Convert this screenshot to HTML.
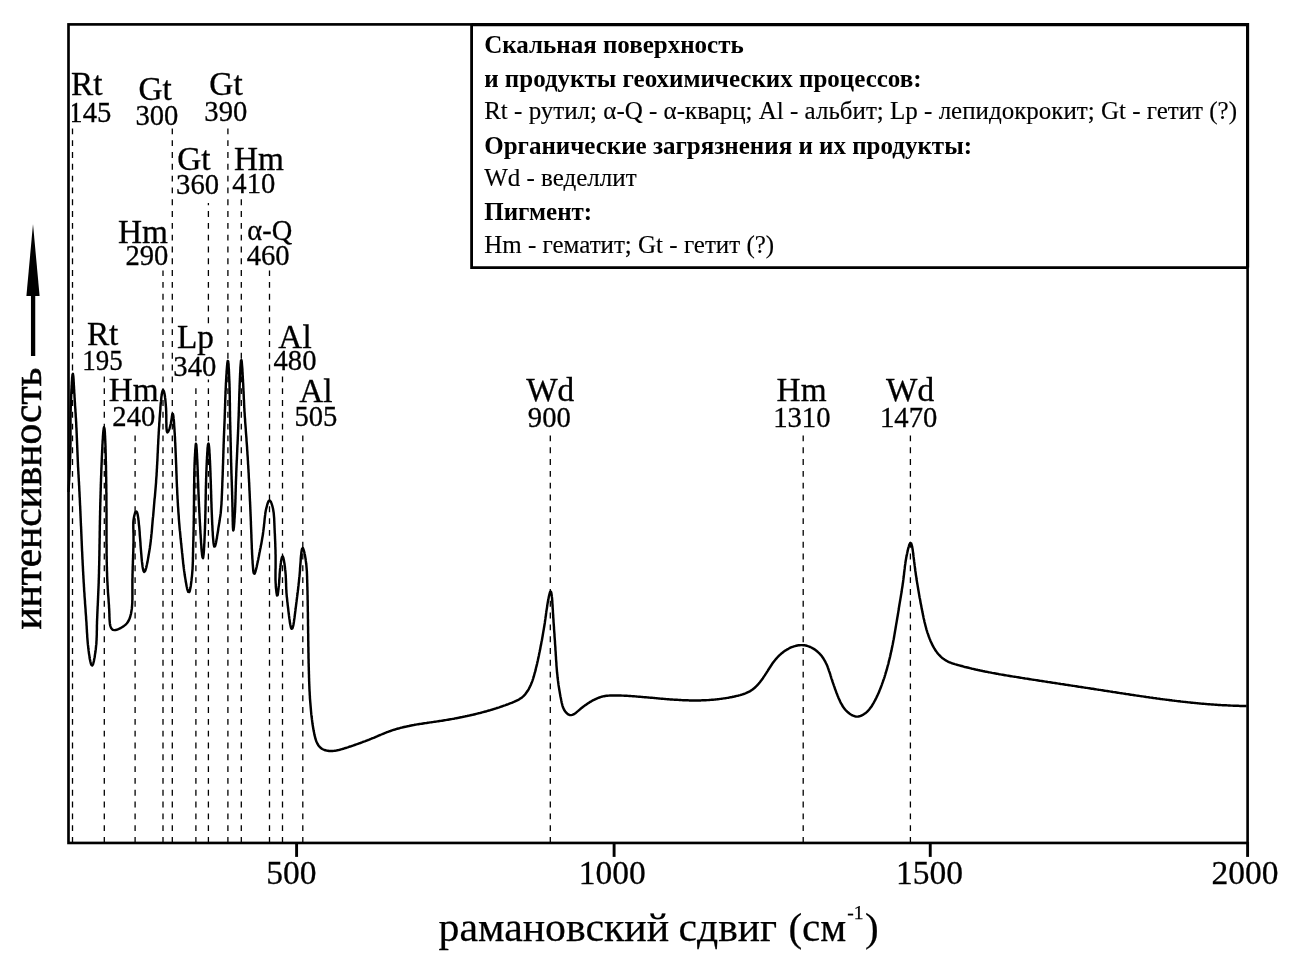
<!DOCTYPE html>
<html lang="ru"><head><meta charset="utf-8"><title>Рамановский спектр</title>
<style>
html,body{margin:0;padding:0;background:#fff;}
body{width:1289px;height:971px;overflow:hidden;position:relative;}
svg{position:absolute;left:0;top:0;display:block;}
svg text{font-family:"Liberation Serif",serif;fill:#000;}
.lt{font-size:33.3px;stroke:#000;stroke-width:0.3px;}
.nm{font-size:30px;stroke:#000;stroke-width:0.3px;}
.tk{font-size:33.5px;stroke:#000;stroke-width:0.3px;}
.lg{font-size:25px;stroke:#000;stroke-width:0.15px;}
.lgb{font-size:25px;font-weight:bold;}
.ax{font-size:41px;}
</style></head>
<body>
<svg width="1289" height="971" viewBox="0 0 1289 971">
<rect x="0" y="0" width="1289" height="971" fill="#fff"/>
<g stroke="#000" stroke-width="1.3" stroke-dasharray="5.9 5.91" fill="none">
<line x1="72.5" y1="128.4" x2="72.5" y2="842" stroke-dashoffset="0.00"/>
<line x1="104.3" y1="376.4" x2="104.3" y2="842" stroke-dashoffset="11.80"/>
<line x1="135.1" y1="435.5" x2="135.1" y2="842" stroke-dashoffset="0.04"/>
<line x1="163" y1="270.6" x2="163" y2="842" stroke-dashoffset="0.48"/>
<line x1="172.3" y1="128.4" x2="172.3" y2="842" stroke-dashoffset="0.00"/>
<line x1="195.9" y1="388.2" x2="195.9" y2="842" stroke-dashoffset="11.79"/>
<line x1="208.4" y1="203.1" x2="208.4" y2="842" stroke-dashoffset="3.84"/>
<line x1="227.9" y1="128.4" x2="227.9" y2="842" stroke-dashoffset="0.00"/>
<line x1="241.3" y1="198.8" x2="241.3" y2="842" stroke-dashoffset="11.35"/>
<line x1="269.5" y1="270.6" x2="269.5" y2="842" stroke-dashoffset="0.48"/>
<line x1="282.5" y1="376.4" x2="282.5" y2="842" stroke-dashoffset="11.80"/>
<line x1="302.8" y1="435.5" x2="302.8" y2="842" stroke-dashoffset="0.04"/>
<line x1="550.3" y1="435.5" x2="550.3" y2="842" stroke-dashoffset="0.04"/>
<line x1="803.2" y1="435.5" x2="803.2" y2="842" stroke-dashoffset="0.04"/>
<line x1="910.4" y1="435.5" x2="910.4" y2="842" stroke-dashoffset="0.04"/>
</g>
<rect x="206" y="327" width="5" height="52.5" fill="#fff"/>
<path d="M68.5,492.0L68.6,490.8L68.6,489.6L68.7,488.4L68.8,487.2L68.8,486.0L68.9,484.8L69.0,483.6L69.0,482.4L69.1,481.2L69.2,480.0L69.2,478.8L69.3,477.6L69.4,476.4L69.4,475.2L69.5,474.0L69.5,472.8L69.6,471.6L69.6,470.4L69.7,469.2L69.8,468.0L69.8,466.8L69.9,465.6L69.9,464.4L69.9,463.2L70.0,462.0L70.0,460.8L70.1,459.6L70.1,458.4L70.2,457.2L70.2,456.0L70.2,454.8L70.3,453.6L70.3,452.4L70.3,451.2L70.4,450.0L70.4,448.8L70.4,447.6L70.4,446.4L70.4,445.2L70.5,444.0L70.5,442.8L70.5,441.6L70.5,440.4L70.5,439.2L70.5,438.0L70.5,436.8L70.5,435.6L70.5,434.4L70.5,433.2L70.5,432.0L70.5,430.8L70.5,429.6L70.5,428.4L70.5,427.2L70.5,426.0L70.5,424.8L70.5,423.6L70.5,422.4L70.5,421.2L70.5,420.0L70.5,418.8L70.5,417.6L70.6,416.4L70.6,415.2L70.6,414.0L70.6,412.8L70.6,411.6L70.7,410.4L70.7,409.2L70.7,408.0L70.8,406.8L70.8,405.6L70.9,404.4L70.9,403.2L70.9,402.0L71.0,400.8L71.0,399.6L71.1,398.4L71.1,397.2L71.2,396.0L71.2,394.8L71.3,393.6L71.3,392.4L71.4,391.2L71.4,390.0L71.5,388.8L71.6,387.6L71.6,386.4L71.7,385.2L71.8,384.0L71.8,382.8L71.9,381.6L72.0,380.4L72.1,379.2L72.1,378.0L72.3,376.8L72.4,375.6L72.5,374.5L72.9,373.8L73.1,375.0L73.3,376.2L73.4,377.4L73.5,378.6L73.6,379.8L73.6,381.0L73.7,382.2L73.8,383.4L73.8,384.6L73.9,385.8L74.0,387.0L74.0,388.2L74.1,389.4L74.2,390.6L74.2,391.8L74.3,393.0L74.4,394.2L74.5,395.4L74.5,396.6L74.6,397.8L74.7,399.0L74.7,400.2L74.8,401.4L74.9,402.6L75.0,403.8L75.0,405.0L75.1,406.2L75.2,407.4L75.3,408.6L75.4,409.8L75.4,411.0L75.5,412.2L75.6,413.4L75.7,414.6L75.7,415.8L75.8,417.0L75.9,418.2L76.0,419.4L76.0,420.6L76.1,421.7L76.2,422.9L76.2,424.1L76.3,425.3L76.3,426.5L76.4,427.7L76.5,428.9L76.5,430.1L76.6,431.3L76.6,432.5L76.7,433.7L76.7,434.9L76.8,436.1L76.8,437.3L76.9,438.5L76.9,439.7L77.0,440.9L77.0,442.1L77.1,443.3L77.1,444.5L77.2,445.7L77.2,446.9L77.3,448.1L77.3,449.3L77.4,450.5L77.4,451.7L77.5,452.9L77.5,454.1L77.6,455.3L77.6,456.5L77.7,457.7L77.7,458.9L77.8,460.1L77.8,461.3L77.9,462.5L77.9,463.7L78.0,464.9L78.0,466.1L78.1,467.3L78.2,468.5L78.2,469.7L78.3,470.9L78.4,472.1L78.4,473.3L78.5,474.5L78.6,475.7L78.6,476.9L78.7,478.1L78.8,479.3L78.8,480.5L78.9,481.7L79.0,482.9L79.0,484.1L79.1,485.3L79.2,486.5L79.2,487.7L79.3,488.9L79.3,490.1L79.4,491.3L79.5,492.5L79.5,493.7L79.6,494.9L79.6,496.1L79.7,497.3L79.8,498.5L79.8,499.7L79.9,500.9L79.9,502.1L80.0,503.3L80.0,504.5L80.1,505.7L80.2,506.9L80.2,508.1L80.3,509.3L80.3,510.5L80.4,511.7L80.4,512.9L80.5,514.1L80.5,515.3L80.6,516.5L80.6,517.7L80.7,518.9L80.7,520.1L80.8,521.3L80.8,522.5L80.9,523.7L80.9,524.9L81.0,526.1L81.1,527.3L81.1,528.5L81.2,529.7L81.2,530.9L81.3,532.1L81.3,533.3L81.4,534.5L81.4,535.7L81.5,536.9L81.5,538.1L81.6,539.3L81.6,540.5L81.7,541.7L81.7,542.9L81.8,544.1L81.8,545.3L81.9,546.5L81.9,547.7L82.0,548.9L82.0,550.1L82.1,551.3L82.2,552.5L82.2,553.7L82.3,554.9L82.3,556.1L82.4,557.3L82.4,558.5L82.5,559.7L82.6,560.9L82.6,562.1L82.7,563.3L82.7,564.5L82.8,565.7L82.9,566.9L82.9,568.1L83.0,569.2L83.0,570.4L83.1,571.6L83.2,572.8L83.2,574.0L83.3,575.2L83.4,576.4L83.4,577.6L83.5,578.8L83.6,580.0L83.6,581.2L83.7,582.4L83.8,583.6L83.9,584.8L83.9,586.0L84.0,587.2L84.1,588.4L84.1,589.6L84.2,590.8L84.3,592.0L84.4,593.2L84.5,594.4L84.5,595.6L84.6,596.8L84.7,598.0L84.8,599.2L84.9,600.4L85.0,601.6L85.0,602.8L85.1,604.0L85.2,605.2L85.3,606.4L85.4,607.6L85.5,608.8L85.6,610.0L85.6,611.2L85.7,612.4L85.8,613.6L85.9,614.8L86.0,616.0L86.1,617.2L86.1,618.4L86.2,619.6L86.3,620.8L86.4,622.0L86.5,623.2L86.5,624.4L86.6,625.6L86.7,626.8L86.7,628.0L86.8,629.2L86.9,630.3L86.9,631.5L87.0,632.7L87.1,633.9L87.2,635.1L87.2,636.3L87.3,637.5L87.4,638.7L87.5,639.9L87.6,641.1L87.7,642.3L87.8,643.5L87.9,644.7L88.1,645.9L88.2,647.1L88.3,648.3L88.5,649.5L88.6,650.7L88.8,651.9L88.9,653.1L89.1,654.2L89.3,655.4L89.5,656.6L89.6,657.8L89.8,659.0L90.1,660.2L90.3,661.3L90.6,662.5L90.9,663.7L91.3,664.8L92.2,665.4L92.9,664.5L93.3,663.3L93.6,662.2L93.9,661.0L94.1,659.8L94.3,658.7L94.6,657.5L94.8,656.3L94.9,655.1L95.1,653.9L95.3,652.7L95.5,651.5L95.6,650.3L95.8,649.2L95.9,648.0L96.0,646.8L96.1,645.6L96.3,644.4L96.4,643.2L96.4,642.0L96.5,640.8L96.6,639.6L96.6,638.4L96.7,637.2L96.7,636.0L96.8,634.8L96.8,633.6L96.8,632.4L96.8,631.2L96.9,630.0L96.9,628.8L96.9,627.6L96.9,626.4L96.9,625.2L97.0,624.0L97.0,622.8L97.0,621.6L97.1,620.4L97.1,619.2L97.2,618.0L97.2,616.8L97.3,615.6L97.3,614.4L97.4,613.2L97.4,612.0L97.5,610.8L97.5,609.6L97.6,608.4L97.6,607.2L97.7,606.0L97.8,604.8L97.8,603.6L97.9,602.4L97.9,601.2L98.0,600.0L98.0,598.8L98.1,597.6L98.1,596.4L98.2,595.2L98.2,594.0L98.3,592.8L98.3,591.6L98.4,590.4L98.4,589.2L98.5,588.0L98.5,586.8L98.6,585.6L98.6,584.4L98.7,583.2L98.7,582.0L98.7,580.8L98.8,579.6L98.8,578.4L98.9,577.2L98.9,576.0L98.9,574.8L99.0,573.6L99.0,572.4L99.0,571.2L99.0,570.0L99.1,568.8L99.1,567.6L99.1,566.4L99.2,565.2L99.2,564.0L99.2,562.8L99.2,561.6L99.3,560.4L99.3,559.2L99.3,558.0L99.3,556.8L99.4,555.6L99.4,554.4L99.4,553.2L99.4,552.0L99.4,550.8L99.5,549.6L99.5,548.4L99.5,547.2L99.5,546.0L99.5,544.8L99.6,543.6L99.6,542.4L99.6,541.2L99.6,540.0L99.6,538.8L99.7,537.6L99.7,536.4L99.7,535.2L99.7,534.0L99.7,532.8L99.7,531.6L99.8,530.4L99.8,529.2L99.8,528.0L99.8,526.8L99.8,525.6L99.9,524.4L99.9,523.2L99.9,522.0L99.9,520.8L100.0,519.6L100.0,518.4L100.0,517.2L100.0,516.0L100.1,514.8L100.1,513.6L100.1,512.4L100.1,511.2L100.2,510.0L100.2,508.8L100.2,507.6L100.2,506.4L100.3,505.2L100.3,504.0L100.3,502.8L100.4,501.6L100.4,500.4L100.4,499.2L100.5,498.0L100.5,496.8L100.5,495.6L100.6,494.4L100.6,493.2L100.6,492.0L100.7,490.8L100.7,489.6L100.7,488.4L100.8,487.2L100.8,486.0L100.8,484.8L100.9,483.6L100.9,482.4L101.0,481.2L101.0,480.0L101.0,478.8L101.1,477.6L101.1,476.4L101.2,475.2L101.2,474.0L101.3,472.8L101.3,471.6L101.3,470.4L101.4,469.2L101.4,468.0L101.5,466.8L101.5,465.6L101.6,464.4L101.6,463.2L101.7,462.0L101.7,460.8L101.8,459.6L101.8,458.4L101.9,457.2L101.9,456.0L102.0,454.8L102.0,453.6L102.1,452.4L102.1,451.2L102.2,450.0L102.3,448.8L102.3,447.6L102.4,446.4L102.4,445.2L102.5,444.0L102.6,442.8L102.6,441.6L102.7,440.4L102.8,439.2L102.9,438.0L102.9,436.8L103.0,435.6L103.1,434.4L103.2,433.2L103.3,432.0L103.4,430.8L103.6,429.6L103.7,428.5L104.0,427.3L104.4,428.2L104.6,429.4L104.7,430.6L104.8,431.8L104.9,433.0L104.9,434.2L105.0,435.4L105.1,436.6L105.1,437.8L105.2,439.0L105.2,440.2L105.3,441.4L105.3,442.6L105.4,443.8L105.4,445.0L105.5,446.2L105.5,447.4L105.5,448.6L105.6,449.8L105.6,451.0L105.6,452.2L105.7,453.4L105.7,454.6L105.7,455.8L105.8,457.0L105.8,458.2L105.8,459.4L105.8,460.6L105.9,461.8L105.9,463.0L105.9,464.2L106.0,465.4L106.0,466.6L106.0,467.8L106.0,469.0L106.0,470.2L106.1,471.4L106.1,472.6L106.1,473.8L106.1,475.0L106.1,476.2L106.2,477.4L106.2,478.6L106.2,479.8L106.2,481.0L106.2,482.2L106.2,483.4L106.3,484.6L106.3,485.8L106.3,487.0L106.3,488.2L106.3,489.4L106.3,490.6L106.3,491.8L106.4,493.0L106.4,494.2L106.4,495.4L106.4,496.6L106.4,497.8L106.4,499.0L106.4,500.2L106.4,501.4L106.4,502.6L106.4,503.8L106.4,505.0L106.4,506.2L106.4,507.4L106.5,508.6L106.5,509.8L106.5,511.0L106.5,512.2L106.5,513.4L106.5,514.6L106.5,515.8L106.5,517.0L106.5,518.2L106.5,519.4L106.5,520.6L106.5,521.8L106.5,523.0L106.5,524.2L106.5,525.4L106.5,526.6L106.5,527.8L106.5,529.0L106.5,530.2L106.5,531.4L106.5,532.6L106.5,533.8L106.5,535.0L106.5,536.2L106.5,537.4L106.5,538.6L106.5,539.8L106.5,541.0L106.5,542.2L106.5,543.4L106.6,544.6L106.6,545.8L106.6,547.0L106.6,548.2L106.6,549.4L106.6,550.6L106.6,551.8L106.6,553.0L106.6,554.2L106.6,555.4L106.7,556.6L106.7,557.8L106.7,559.0L106.7,560.2L106.7,561.4L106.8,562.6L106.8,563.8L106.8,565.0L106.8,566.2L106.9,567.4L106.9,568.6L106.9,569.8L107.0,571.0L107.0,572.2L107.1,573.4L107.1,574.6L107.1,575.8L107.2,577.0L107.2,578.2L107.3,579.4L107.3,580.6L107.4,581.8L107.5,583.0L107.5,584.2L107.6,585.4L107.7,586.6L107.7,587.8L107.8,589.0L107.9,590.2L107.9,591.4L108.0,592.6L108.1,593.8L108.2,595.0L108.3,596.2L108.4,597.4L108.5,598.6L108.6,599.8L108.6,601.0L108.7,602.2L108.8,603.3L108.9,604.5L109.0,605.7L109.0,606.9L109.1,608.1L109.2,609.3L109.2,610.5L109.3,611.7L109.3,612.9L109.4,614.1L109.4,615.3L109.4,616.5L109.5,617.7L109.5,618.9L109.6,620.1L109.7,621.3L109.8,622.5L109.9,623.7L110.1,624.9L110.4,626.1L110.8,627.2L111.3,628.3L112.1,629.2L113.1,629.9L114.3,630.1L115.5,630.0L116.6,629.8L117.8,629.4L118.9,628.9L119.9,628.4L121.0,627.8L122.0,627.2L123.0,626.6L124.0,625.9L125.0,625.1L125.9,624.3L126.7,623.5L127.5,622.5L128.1,621.5L128.7,620.5L129.2,619.4L129.7,618.3L130.1,617.2L130.4,616.0L130.7,614.8L131.0,613.7L131.2,612.5L131.4,611.3L131.6,610.1L131.8,608.9L131.9,607.8L132.0,606.6L132.1,605.4L132.2,604.2L132.3,603.0L132.3,601.8L132.3,600.6L132.4,599.4L132.4,598.2L132.4,597.0L132.4,595.8L132.4,594.6L132.4,593.4L132.4,592.2L132.4,591.0L132.4,589.8L132.4,588.6L132.4,587.4L132.4,586.2L132.4,585.0L132.4,583.8L132.4,582.6L132.4,581.4L132.4,580.2L132.4,579.0L132.5,577.8L132.5,576.6L132.5,575.4L132.5,574.2L132.6,573.0L132.6,571.8L132.6,570.6L132.7,569.4L132.7,568.2L132.7,567.0L132.8,565.8L132.8,564.6L132.9,563.4L132.9,562.2L132.9,561.0L133.0,559.8L133.0,558.6L133.1,557.4L133.1,556.2L133.1,555.0L133.2,553.8L133.2,552.6L133.3,551.4L133.3,550.2L133.3,549.0L133.4,547.8L133.4,546.6L133.4,545.4L133.4,544.2L133.5,543.0L133.5,541.8L133.5,540.6L133.5,539.4L133.5,538.2L133.5,537.0L133.5,535.8L133.5,534.6L133.5,533.4L133.4,532.2L133.4,530.9L133.4,529.7L133.3,528.5L133.3,527.3L133.3,526.1L133.3,524.9L133.3,523.7L133.3,522.5L133.4,521.4L133.5,520.2L133.7,519.0L133.9,517.8L134.1,516.6L134.4,515.4L134.7,514.3L135.0,513.1L135.5,512.0L136.4,511.5L137.1,512.5L137.4,513.6L137.7,514.8L137.9,516.0L138.1,517.2L138.3,518.4L138.4,519.6L138.6,520.7L138.7,521.9L138.8,523.1L138.9,524.3L139.0,525.5L139.2,526.7L139.3,527.9L139.4,529.1L139.5,530.3L139.6,531.5L139.7,532.7L139.7,533.9L139.8,535.1L139.9,536.3L140.0,537.5L140.1,538.7L140.2,539.9L140.3,541.1L140.4,542.3L140.5,543.5L140.5,544.7L140.6,545.9L140.7,547.1L140.8,548.3L140.9,549.5L141.0,550.7L141.1,551.9L141.2,553.1L141.3,554.2L141.4,555.4L141.5,556.6L141.6,557.8L141.7,559.0L141.8,560.2L141.9,561.4L142.1,562.6L142.2,563.8L142.4,565.0L142.5,566.2L142.7,567.4L142.9,568.6L143.2,569.7L143.5,570.9L144.1,571.9L145.0,571.2L145.5,570.1L145.8,568.9L146.2,567.8L146.5,566.6L146.7,565.4L147.0,564.3L147.2,563.1L147.5,561.9L147.7,560.7L147.9,559.6L148.1,558.4L148.3,557.2L148.5,556.0L148.7,554.8L148.9,553.6L149.1,552.5L149.3,551.3L149.5,550.1L149.7,548.9L149.9,547.7L150.0,546.5L150.2,545.3L150.4,544.1L150.5,542.9L150.7,541.8L150.8,540.6L150.9,539.4L151.1,538.2L151.2,537.0L151.3,535.8L151.4,534.6L151.6,533.4L151.7,532.2L151.8,531.0L151.9,529.8L152.0,528.6L152.1,527.4L152.2,526.2L152.3,525.0L152.4,523.8L152.5,522.6L152.6,521.4L152.7,520.2L152.8,519.1L152.9,517.9L153.1,516.7L153.2,515.5L153.3,514.3L153.4,513.1L153.5,511.9L153.6,510.7L153.7,509.5L153.8,508.3L153.9,507.1L154.0,505.9L154.1,504.7L154.2,503.5L154.3,502.3L154.4,501.1L154.5,499.9L154.6,498.7L154.8,497.5L154.9,496.3L155.0,495.1L155.1,493.9L155.2,492.7L155.3,491.5L155.4,490.4L155.5,489.2L155.6,488.0L155.7,486.8L155.8,485.6L155.9,484.4L156.0,483.2L156.1,482.0L156.1,480.8L156.2,479.6L156.3,478.4L156.4,477.2L156.5,476.0L156.6,474.8L156.6,473.6L156.7,472.4L156.8,471.2L156.8,470.0L156.9,468.8L157.0,467.6L157.0,466.4L157.1,465.2L157.2,464.0L157.2,462.8L157.3,461.6L157.4,460.4L157.4,459.2L157.5,458.0L157.5,456.8L157.6,455.6L157.6,454.4L157.7,453.2L157.8,452.0L157.8,450.8L157.9,449.6L157.9,448.4L158.0,447.2L158.0,446.0L158.1,444.8L158.2,443.6L158.2,442.4L158.3,441.2L158.3,440.0L158.4,438.8L158.5,437.6L158.5,436.4L158.6,435.2L158.7,434.0L158.7,432.8L158.8,431.6L158.9,430.4L158.9,429.2L159.0,428.0L159.1,426.8L159.2,425.6L159.2,424.4L159.3,423.2L159.4,422.0L159.5,420.8L159.6,419.7L159.6,418.5L159.7,417.3L159.8,416.1L159.9,414.9L160.0,413.7L160.1,412.5L160.2,411.3L160.3,410.1L160.4,408.9L160.4,407.7L160.5,406.5L160.6,405.3L160.7,404.1L160.8,402.9L161.0,401.7L161.1,400.5L161.2,399.3L161.3,398.1L161.4,396.9L161.6,395.7L161.8,394.5L161.9,393.4L162.2,392.2L162.5,391.0L163.0,390.0L163.7,390.8L164.1,392.0L164.4,393.2L164.6,394.3L164.8,395.5L165.0,396.7L165.1,397.9L165.3,399.1L165.4,400.3L165.5,401.5L165.6,402.7L165.7,403.9L165.8,405.1L165.9,406.3L166.0,407.5L166.1,408.7L166.1,409.9L166.2,411.1L166.2,412.3L166.2,413.5L166.3,414.7L166.3,415.9L166.3,417.1L166.3,418.3L166.3,419.5L166.3,420.7L166.3,421.9L166.4,423.1L166.4,424.3L166.4,425.5L166.4,426.7L166.5,427.9L166.6,429.1L166.7,430.3L166.9,431.4L167.4,432.5L168.2,431.7L168.7,430.6L169.2,429.5L169.6,428.3L169.9,427.2L170.2,426.0L170.5,424.9L170.8,423.7L171.0,422.5L171.2,421.3L171.4,420.1L171.6,418.9L171.8,417.8L171.9,416.6L172.1,415.4L172.3,414.2L172.9,414.0L173.2,415.1L173.4,416.3L173.5,417.5L173.6,418.7L173.8,419.9L173.9,421.1L174.0,422.3L174.1,423.5L174.1,424.7L174.2,425.9L174.3,427.1L174.4,428.3L174.5,429.5L174.5,430.7L174.6,431.9L174.7,433.1L174.8,434.3L174.8,435.5L174.9,436.7L175.0,437.9L175.0,439.1L175.1,440.3L175.1,441.5L175.2,442.7L175.3,443.9L175.3,445.1L175.4,446.3L175.4,447.5L175.5,448.6L175.5,449.8L175.6,451.0L175.6,452.2L175.7,453.4L175.7,454.6L175.8,455.8L175.8,457.0L175.9,458.2L175.9,459.4L176.0,460.6L176.0,461.8L176.1,463.0L176.1,464.2L176.2,465.4L176.2,466.6L176.3,467.8L176.3,469.0L176.3,470.2L176.4,471.4L176.4,472.6L176.5,473.8L176.5,475.0L176.6,476.2L176.6,477.4L176.6,478.6L176.7,479.8L176.7,481.0L176.8,482.2L176.8,483.4L176.9,484.6L176.9,485.8L177.0,487.0L177.1,488.2L177.1,489.4L177.2,490.6L177.2,491.8L177.3,493.0L177.3,494.2L177.4,495.4L177.5,496.6L177.5,497.8L177.6,499.0L177.7,500.2L177.7,501.4L177.8,502.6L177.9,503.8L177.9,505.0L178.0,506.2L178.1,507.4L178.2,508.6L178.3,509.8L178.3,511.0L178.4,512.2L178.5,513.4L178.6,514.6L178.7,515.8L178.8,517.0L178.8,518.2L178.9,519.4L179.0,520.6L179.1,521.8L179.2,523.0L179.3,524.2L179.4,525.4L179.5,526.6L179.6,527.8L179.7,529.0L179.8,530.2L180.0,531.4L180.1,532.5L180.2,533.7L180.3,534.9L180.4,536.1L180.5,537.3L180.6,538.5L180.8,539.7L180.9,540.9L181.0,542.1L181.1,543.3L181.3,544.5L181.4,545.7L181.5,546.9L181.6,548.1L181.8,549.3L181.9,550.5L182.0,551.7L182.1,552.9L182.3,554.0L182.4,555.2L182.5,556.4L182.6,557.6L182.7,558.8L182.9,560.0L183.0,561.2L183.1,562.4L183.2,563.6L183.4,564.8L183.5,566.0L183.7,567.2L183.8,568.4L184.0,569.6L184.1,570.7L184.3,571.9L184.5,573.1L184.6,574.3L184.8,575.5L185.0,576.7L185.2,577.9L185.4,579.1L185.6,580.2L185.7,581.4L186.0,582.6L186.2,583.8L186.4,585.0L186.6,586.2L186.9,587.3L187.1,588.5L187.4,589.7L187.8,590.8L188.3,591.9L189.2,592.1L189.7,591.1L190.0,589.9L190.2,588.7L190.5,587.6L190.7,586.4L190.9,585.2L191.0,584.0L191.2,582.8L191.3,581.6L191.5,580.4L191.6,579.2L191.7,578.0L191.9,576.8L192.0,575.6L192.1,574.5L192.2,573.3L192.3,572.1L192.4,570.9L192.5,569.7L192.6,568.5L192.6,567.3L192.7,566.1L192.7,564.9L192.8,563.7L192.8,562.5L192.9,561.3L192.9,560.1L192.9,558.9L192.9,557.7L193.0,556.5L193.0,555.3L193.0,554.1L193.0,552.9L193.1,551.7L193.1,550.5L193.1,549.3L193.1,548.1L193.2,546.9L193.2,545.7L193.2,544.5L193.3,543.3L193.3,542.1L193.3,540.9L193.4,539.7L193.4,538.5L193.4,537.3L193.5,536.1L193.5,534.9L193.5,533.7L193.5,532.5L193.6,531.3L193.6,530.1L193.6,528.9L193.6,527.7L193.7,526.5L193.7,525.3L193.7,524.1L193.7,522.9L193.7,521.7L193.8,520.5L193.8,519.3L193.8,518.1L193.8,516.9L193.8,515.7L193.9,514.5L193.9,513.3L193.9,512.1L193.9,510.9L193.9,509.7L193.9,508.5L193.9,507.3L193.9,506.1L194.0,504.9L194.0,503.7L194.0,502.5L194.0,501.3L194.0,500.1L194.0,498.9L194.0,497.7L194.0,496.5L194.0,495.3L194.1,494.1L194.1,492.9L194.1,491.7L194.1,490.5L194.1,489.3L194.1,488.1L194.1,486.9L194.1,485.7L194.1,484.5L194.2,483.3L194.2,482.1L194.2,480.9L194.2,479.7L194.2,478.4L194.2,477.2L194.3,476.0L194.3,474.8L194.3,473.6L194.3,472.4L194.4,471.2L194.4,470.0L194.4,468.8L194.5,467.6L194.5,466.4L194.5,465.2L194.6,464.0L194.6,462.8L194.7,461.7L194.7,460.5L194.8,459.3L194.8,458.1L194.9,456.9L195.0,455.7L195.0,454.5L195.1,453.3L195.2,452.1L195.2,450.9L195.3,449.7L195.4,448.5L195.5,447.3L195.6,446.1L195.7,444.9L195.9,443.7L196.3,444.7L196.4,445.9L196.5,447.1L196.6,448.3L196.7,449.5L196.8,450.7L196.8,451.9L196.9,453.1L197.0,454.3L197.0,455.5L197.1,456.7L197.1,457.8L197.2,459.0L197.3,460.2L197.3,461.4L197.4,462.6L197.4,463.8L197.5,465.0L197.5,466.2L197.6,467.4L197.6,468.6L197.7,469.8L197.7,471.0L197.7,472.2L197.8,473.4L197.8,474.6L197.9,475.8L197.9,477.0L197.9,478.2L198.0,479.4L198.0,480.6L198.1,481.8L198.1,483.0L198.2,484.2L198.2,485.4L198.2,486.6L198.3,487.8L198.3,489.0L198.4,490.2L198.4,491.4L198.5,492.6L198.5,493.8L198.6,495.0L198.6,496.2L198.7,497.4L198.7,498.6L198.8,499.8L198.8,501.0L198.9,502.2L198.9,503.4L199.0,504.6L199.0,505.8L199.1,507.0L199.2,508.2L199.2,509.4L199.3,510.6L199.3,511.8L199.4,513.0L199.5,514.2L199.5,515.4L199.6,516.6L199.6,517.8L199.7,519.0L199.8,520.2L199.8,521.4L199.9,522.6L200.0,523.8L200.0,525.0L200.1,526.2L200.2,527.4L200.2,528.6L200.3,529.8L200.4,531.0L200.4,532.2L200.5,533.4L200.6,534.6L200.7,535.8L200.7,537.0L200.8,538.2L200.9,539.4L201.0,540.6L201.0,541.8L201.1,543.0L201.2,544.2L201.3,545.4L201.4,546.6L201.4,547.8L201.5,549.0L201.6,550.2L201.7,551.4L201.9,552.6L202.0,553.8L202.1,555.0L202.3,556.1L202.5,557.3L203.0,558.1L203.3,556.9L203.4,555.7L203.6,554.5L203.7,553.3L203.8,552.1L203.9,550.9L204.0,549.7L204.0,548.5L204.1,547.3L204.2,546.1L204.2,544.9L204.3,543.7L204.4,542.5L204.4,541.3L204.5,540.1L204.5,538.9L204.6,537.7L204.6,536.5L204.7,535.4L204.7,534.2L204.8,533.0L204.8,531.8L204.9,530.6L204.9,529.4L205.0,528.2L205.0,527.0L205.0,525.8L205.1,524.6L205.1,523.4L205.2,522.2L205.2,521.0L205.2,519.8L205.3,518.6L205.3,517.4L205.3,516.2L205.3,515.0L205.4,513.8L205.4,512.6L205.4,511.4L205.5,510.2L205.5,509.0L205.5,507.8L205.5,506.6L205.5,505.4L205.6,504.2L205.6,502.9L205.6,501.7L205.6,500.5L205.7,499.3L205.7,498.1L205.7,496.9L205.7,495.7L205.7,494.5L205.8,493.3L205.8,492.1L205.8,490.9L205.8,489.7L205.9,488.5L205.9,487.3L205.9,486.1L206.0,484.9L206.0,483.7L206.0,482.5L206.1,481.3L206.1,480.1L206.1,478.9L206.2,477.7L206.2,476.5L206.3,475.3L206.3,474.1L206.3,472.9L206.4,471.7L206.4,470.5L206.5,469.3L206.5,468.1L206.6,466.9L206.6,465.7L206.7,464.6L206.7,463.4L206.8,462.2L206.8,461.0L206.9,459.8L207.0,458.6L207.0,457.4L207.1,456.2L207.2,455.0L207.2,453.8L207.3,452.6L207.4,451.4L207.5,450.2L207.5,449.0L207.6,447.8L207.8,446.6L207.9,445.4L208.1,444.2L208.5,443.5L208.8,444.6L208.9,445.8L209.1,447.0L209.2,448.2L209.3,449.4L209.4,450.6L209.4,451.8L209.5,453.0L209.6,454.2L209.7,455.4L209.7,456.6L209.8,457.8L209.8,459.0L209.9,460.2L210.0,461.4L210.0,462.6L210.1,463.8L210.1,465.0L210.2,466.2L210.2,467.4L210.3,468.6L210.3,469.8L210.4,471.0L210.4,472.2L210.5,473.4L210.5,474.6L210.5,475.8L210.6,477.0L210.6,478.2L210.7,479.4L210.7,480.6L210.8,481.8L210.8,483.0L210.8,484.2L210.9,485.4L210.9,486.6L210.9,487.8L211.0,489.0L211.0,490.2L211.1,491.4L211.1,492.6L211.1,493.8L211.2,495.0L211.2,496.2L211.2,497.4L211.3,498.6L211.3,499.8L211.3,501.0L211.4,502.2L211.4,503.4L211.5,504.6L211.5,505.8L211.5,507.0L211.6,508.2L211.6,509.4L211.7,510.6L211.7,511.8L211.8,513.0L211.8,514.2L211.9,515.4L211.9,516.6L212.0,517.8L212.0,519.0L212.1,520.2L212.1,521.4L212.2,522.6L212.2,523.8L212.3,525.0L212.4,526.2L212.4,527.4L212.5,528.6L212.5,529.8L212.6,531.0L212.7,532.2L212.8,533.4L212.8,534.6L212.9,535.8L213.0,537.0L213.1,538.2L213.2,539.4L213.3,540.5L213.4,541.7L213.5,542.9L213.7,544.1L213.9,545.3L214.3,546.5L215.0,546.3L215.4,545.2L215.7,544.0L216.0,542.8L216.2,541.6L216.4,540.5L216.6,539.3L216.9,538.1L217.0,536.9L217.2,535.7L217.4,534.5L217.6,533.4L217.8,532.2L218.0,531.0L218.2,529.8L218.3,528.6L218.5,527.4L218.7,526.2L218.9,525.0L219.1,523.9L219.3,522.7L219.5,521.5L219.7,520.3L219.8,519.1L220.0,517.9L220.2,516.7L220.4,515.6L220.5,514.4L220.7,513.2L220.8,512.0L220.9,510.8L221.0,509.6L221.1,508.4L221.2,507.2L221.3,506.0L221.4,504.8L221.5,503.6L221.5,502.4L221.6,501.2L221.7,500.0L221.7,498.8L221.8,497.6L221.8,496.4L221.9,495.2L221.9,494.0L222.0,492.8L222.0,491.6L222.1,490.4L222.1,489.2L222.2,488.0L222.2,486.8L222.3,485.6L222.3,484.4L222.3,483.2L222.4,482.0L222.4,480.8L222.5,479.6L222.5,478.4L222.6,477.2L222.6,476.0L222.7,474.8L222.7,473.6L222.7,472.4L222.8,471.2L222.8,470.0L222.9,468.8L222.9,467.6L222.9,466.4L223.0,465.2L223.0,464.0L223.1,462.8L223.1,461.6L223.1,460.4L223.2,459.2L223.2,458.0L223.3,456.8L223.3,455.6L223.3,454.4L223.4,453.2L223.4,452.0L223.4,450.8L223.5,449.6L223.5,448.4L223.6,447.2L223.6,446.0L223.6,444.8L223.7,443.6L223.7,442.4L223.8,441.2L223.8,440.0L223.8,438.8L223.9,437.6L223.9,436.4L224.0,435.2L224.0,434.0L224.1,432.8L224.1,431.6L224.2,430.4L224.2,429.2L224.3,428.0L224.3,426.8L224.4,425.6L224.4,424.4L224.5,423.2L224.5,422.0L224.6,420.8L224.6,419.6L224.7,418.4L224.7,417.2L224.7,416.0L224.8,414.8L224.8,413.6L224.9,412.4L224.9,411.2L224.9,410.0L225.0,408.8L225.0,407.6L225.1,406.4L225.1,405.2L225.1,404.0L225.2,402.8L225.2,401.6L225.2,400.4L225.3,399.2L225.3,398.0L225.4,396.8L225.4,395.6L225.5,394.4L225.5,393.2L225.5,392.0L225.6,390.8L225.7,389.6L225.7,388.4L225.8,387.2L225.8,386.0L225.9,384.8L225.9,383.6L226.0,382.4L226.1,381.2L226.1,380.0L226.2,378.8L226.3,377.6L226.3,376.4L226.4,375.2L226.5,374.1L226.6,372.9L226.6,371.7L226.7,370.5L226.8,369.3L226.9,368.1L227.0,366.9L227.1,365.7L227.2,364.5L227.3,363.3L227.5,362.1L227.7,360.9L228.2,361.4L228.3,362.6L228.5,363.7L228.6,364.9L228.6,366.1L228.7,367.3L228.8,368.5L228.9,369.7L228.9,370.9L229.0,372.1L229.0,373.3L229.1,374.5L229.1,375.7L229.2,376.9L229.2,378.1L229.3,379.3L229.3,380.5L229.4,381.7L229.4,382.9L229.5,384.1L229.5,385.3L229.5,386.5L229.6,387.7L229.6,388.9L229.6,390.1L229.7,391.3L229.7,392.5L229.7,393.7L229.7,394.9L229.8,396.1L229.8,397.3L229.8,398.5L229.8,399.7L229.8,400.9L229.8,402.1L229.9,403.3L229.9,404.5L229.9,405.7L229.9,406.9L229.9,408.1L229.9,409.3L229.9,410.5L230.0,411.7L230.0,412.9L230.0,414.1L230.0,415.3L230.0,416.5L230.1,417.7L230.1,418.9L230.1,420.1L230.1,421.3L230.2,422.5L230.2,423.7L230.2,424.9L230.3,426.1L230.3,427.3L230.3,428.5L230.3,429.7L230.4,430.9L230.4,432.1L230.4,433.3L230.5,434.5L230.5,435.7L230.5,436.9L230.6,438.1L230.6,439.3L230.6,440.5L230.6,441.7L230.7,442.9L230.7,444.1L230.7,445.3L230.8,446.5L230.8,447.7L230.8,448.9L230.8,450.1L230.9,451.3L230.9,452.5L230.9,453.7L230.9,454.9L231.0,456.1L231.0,457.3L231.0,458.5L231.1,459.7L231.1,460.9L231.1,462.1L231.2,463.3L231.2,464.5L231.2,465.7L231.3,466.9L231.3,468.1L231.3,469.3L231.4,470.5L231.4,471.7L231.4,472.9L231.5,474.1L231.5,475.3L231.6,476.5L231.6,477.7L231.6,478.9L231.7,480.1L231.7,481.3L231.8,482.5L231.8,483.7L231.8,484.9L231.9,486.1L231.9,487.3L232.0,488.5L232.0,489.7L232.0,490.9L232.1,492.1L232.1,493.3L232.1,494.5L232.2,495.7L232.2,496.9L232.2,498.1L232.3,499.3L232.3,500.5L232.3,501.7L232.4,502.9L232.4,504.1L232.4,505.3L232.4,506.5L232.5,507.7L232.5,508.9L232.5,510.1L232.5,511.3L232.6,512.5L232.6,513.7L232.6,514.9L232.6,516.1L232.7,517.3L232.7,518.5L232.7,519.7L232.7,520.9L232.8,522.1L232.8,523.3L232.8,524.5L232.9,525.7L232.9,526.9L233.0,528.1L233.1,529.3L233.2,530.5L233.6,529.7L233.7,528.5L233.9,527.4L234.0,526.2L234.1,525.0L234.2,523.8L234.3,522.6L234.4,521.4L234.4,520.2L234.5,519.0L234.6,517.8L234.7,516.6L234.7,515.4L234.8,514.2L234.9,513.0L235.0,511.8L235.0,510.6L235.1,509.4L235.1,508.2L235.2,507.0L235.2,505.8L235.3,504.6L235.3,503.4L235.4,502.2L235.4,501.0L235.4,499.8L235.5,498.6L235.5,497.4L235.5,496.2L235.6,495.0L235.6,493.8L235.6,492.6L235.7,491.4L235.7,490.2L235.7,489.0L235.8,487.8L235.8,486.6L235.8,485.4L235.9,484.2L235.9,483.0L235.9,481.8L236.0,480.6L236.0,479.4L236.1,478.2L236.1,477.0L236.2,475.8L236.2,474.6L236.2,473.4L236.3,472.2L236.3,471.0L236.4,469.8L236.4,468.6L236.5,467.4L236.5,466.2L236.6,465.0L236.6,463.8L236.7,462.6L236.7,461.4L236.8,460.2L236.9,459.0L236.9,457.8L237.0,456.6L237.0,455.4L237.1,454.2L237.1,453.0L237.2,451.8L237.2,450.6L237.3,449.4L237.3,448.2L237.4,447.0L237.4,445.8L237.5,444.6L237.6,443.4L237.6,442.2L237.7,441.0L237.7,439.8L237.8,438.6L237.8,437.4L237.9,436.2L237.9,435.0L238.0,433.8L238.0,432.6L238.1,431.4L238.1,430.2L238.2,429.0L238.2,427.8L238.3,426.6L238.3,425.4L238.3,424.2L238.4,423.0L238.4,421.8L238.5,420.6L238.5,419.4L238.6,418.2L238.6,417.0L238.7,415.8L238.7,414.6L238.7,413.4L238.8,412.2L238.8,411.0L238.9,409.8L238.9,408.6L238.9,407.4L239.0,406.2L239.0,405.0L239.0,403.8L239.1,402.6L239.1,401.4L239.2,400.2L239.2,399.0L239.2,397.8L239.3,396.6L239.3,395.4L239.3,394.2L239.4,393.0L239.4,391.8L239.5,390.6L239.5,389.4L239.6,388.2L239.6,387.0L239.6,385.8L239.7,384.6L239.7,383.4L239.8,382.2L239.8,381.0L239.9,379.8L239.9,378.6L240.0,377.4L240.0,376.2L240.1,375.0L240.1,373.8L240.2,372.6L240.3,371.4L240.3,370.2L240.4,369.0L240.4,367.8L240.5,366.6L240.6,365.4L240.7,364.2L240.8,363.0L240.9,361.8L241.0,360.7L241.4,360.0L241.7,361.2L241.8,362.4L241.9,363.6L242.0,364.8L242.1,366.0L242.2,367.2L242.3,368.4L242.4,369.6L242.4,370.8L242.5,372.0L242.6,373.2L242.6,374.4L242.7,375.6L242.8,376.8L242.8,378.0L242.9,379.2L243.0,380.4L243.0,381.6L243.1,382.8L243.2,384.0L243.2,385.2L243.3,386.4L243.3,387.6L243.4,388.8L243.4,390.0L243.5,391.2L243.6,392.4L243.6,393.6L243.7,394.8L243.7,396.0L243.8,397.2L243.8,398.4L243.9,399.6L244.0,400.8L244.0,402.0L244.1,403.2L244.1,404.4L244.2,405.6L244.2,406.8L244.3,408.0L244.4,409.2L244.4,410.4L244.5,411.6L244.6,412.8L244.7,414.0L244.7,415.1L244.8,416.3L244.9,417.5L245.0,418.7L245.1,419.9L245.1,421.1L245.2,422.3L245.3,423.5L245.4,424.7L245.5,425.9L245.6,427.1L245.7,428.3L245.8,429.5L245.8,430.7L245.9,431.9L246.0,433.1L246.1,434.3L246.2,435.5L246.3,436.7L246.4,437.9L246.5,439.1L246.5,440.3L246.6,441.5L246.7,442.7L246.8,443.9L246.9,445.1L247.0,446.3L247.1,447.5L247.1,448.7L247.2,449.9L247.3,451.1L247.4,452.3L247.4,453.5L247.5,454.7L247.6,455.9L247.7,457.1L247.8,458.3L247.8,459.5L247.9,460.7L248.0,461.9L248.0,463.1L248.1,464.3L248.2,465.5L248.3,466.6L248.3,467.8L248.4,469.0L248.5,470.2L248.5,471.4L248.6,472.6L248.7,473.8L248.7,475.0L248.8,476.2L248.8,477.4L248.9,478.6L249.0,479.8L249.0,481.0L249.1,482.2L249.2,483.4L249.2,484.6L249.3,485.8L249.3,487.0L249.4,488.2L249.4,489.4L249.5,490.6L249.6,491.8L249.6,493.0L249.7,494.2L249.7,495.4L249.8,496.6L249.8,497.8L249.9,499.0L249.9,500.2L250.0,501.4L250.1,502.6L250.1,503.8L250.2,505.0L250.2,506.2L250.3,507.4L250.3,508.6L250.4,509.8L250.4,511.0L250.5,512.2L250.5,513.4L250.6,514.6L250.6,515.8L250.7,517.0L250.7,518.2L250.8,519.4L250.8,520.6L250.9,521.8L250.9,523.0L250.9,524.2L251.0,525.4L251.0,526.6L251.1,527.8L251.1,529.0L251.2,530.2L251.2,531.4L251.3,532.6L251.3,533.8L251.4,535.0L251.4,536.2L251.4,537.4L251.5,538.6L251.5,539.8L251.6,541.0L251.6,542.2L251.7,543.4L251.7,544.6L251.8,545.8L251.8,547.0L251.8,548.2L251.9,549.4L252.0,550.6L252.0,551.8L252.1,553.0L252.1,554.2L252.2,555.4L252.3,556.6L252.3,557.8L252.4,559.0L252.5,560.2L252.6,561.4L252.6,562.6L252.7,563.8L252.8,565.0L252.9,566.2L253.0,567.4L253.1,568.6L253.2,569.8L253.3,571.0L253.5,572.1L253.8,573.3L254.6,573.7L255.1,572.6L255.5,571.4L255.8,570.3L256.1,569.1L256.4,568.0L256.7,566.8L256.9,565.6L257.2,564.4L257.4,563.3L257.7,562.1L257.9,560.9L258.2,559.8L258.4,558.6L258.6,557.4L258.9,556.2L259.1,555.0L259.3,553.9L259.5,552.7L259.8,551.5L260.0,550.3L260.2,549.1L260.5,548.0L260.7,546.8L260.9,545.6L261.2,544.4L261.4,543.3L261.6,542.1L261.8,540.9L262.0,539.7L262.2,538.5L262.4,537.3L262.6,536.2L262.8,535.0L263.0,533.8L263.1,532.6L263.3,531.4L263.4,530.2L263.6,529.0L263.7,527.8L263.9,526.6L264.0,525.4L264.1,524.2L264.3,523.1L264.4,521.9L264.5,520.7L264.6,519.5L264.7,518.3L264.9,517.1L265.0,515.9L265.2,514.7L265.3,513.5L265.5,512.3L265.7,511.1L265.9,510.0L266.2,508.8L266.5,507.6L266.8,506.5L267.1,505.3L267.4,504.1L267.8,503.0L268.2,501.9L268.8,500.8L269.8,500.4L270.6,501.4L271.1,502.4L271.6,503.6L271.9,504.7L272.3,505.8L272.6,507.0L272.9,508.2L273.1,509.3L273.3,510.5L273.5,511.7L273.7,512.9L273.8,514.1L273.9,515.3L274.0,516.5L274.1,517.7L274.2,518.9L274.2,520.1L274.3,521.3L274.3,522.5L274.4,523.7L274.4,524.9L274.5,526.1L274.5,527.3L274.6,528.5L274.6,529.7L274.7,530.9L274.7,532.1L274.8,533.3L274.9,534.5L274.9,535.7L275.0,536.9L275.0,538.1L275.1,539.3L275.1,540.5L275.2,541.7L275.2,542.9L275.3,544.1L275.3,545.3L275.3,546.5L275.4,547.7L275.4,548.9L275.5,550.1L275.5,551.3L275.5,552.5L275.5,553.7L275.6,554.9L275.6,556.1L275.6,557.3L275.6,558.5L275.6,559.7L275.6,560.9L275.6,562.1L275.6,563.3L275.6,564.5L275.6,565.7L275.6,566.9L275.6,568.1L275.5,569.3L275.5,570.5L275.5,571.7L275.5,572.9L275.5,574.1L275.5,575.3L275.5,576.5L275.5,577.7L275.5,578.9L275.5,580.1L275.6,581.3L275.6,582.5L275.7,583.7L275.8,584.9L275.8,586.1L275.9,587.3L276.0,588.5L276.2,589.7L276.3,590.9L276.4,592.0L276.6,593.2L276.8,594.4L277.0,595.6L277.6,595.2L277.9,594.0L278.0,592.8L278.2,591.6L278.3,590.4L278.5,589.2L278.6,588.0L278.7,586.8L278.9,585.7L279.0,584.5L279.1,583.3L279.2,582.1L279.2,580.9L279.3,579.7L279.4,578.5L279.5,577.3L279.6,576.1L279.6,574.9L279.7,573.7L279.8,572.5L279.9,571.3L280.0,570.1L280.1,568.9L280.3,567.7L280.4,566.5L280.6,565.3L280.7,564.1L280.9,562.9L281.0,561.7L281.2,560.6L281.4,559.4L281.7,558.2L282.0,557.0L282.7,556.3L283.2,557.4L283.5,558.5L283.8,559.7L284.0,560.9L284.2,562.1L284.4,563.3L284.6,564.5L284.7,565.6L284.9,566.8L285.0,568.0L285.1,569.2L285.3,570.4L285.4,571.6L285.5,572.8L285.6,574.0L285.7,575.2L285.8,576.4L285.8,577.6L285.9,578.8L285.9,580.0L286.0,581.2L286.0,582.4L286.1,583.6L286.1,584.8L286.1,586.0L286.2,587.2L286.2,588.4L286.3,589.6L286.4,590.8L286.4,592.0L286.5,593.2L286.6,594.4L286.7,595.6L286.8,596.8L287.0,598.0L287.1,599.2L287.2,600.4L287.3,601.6L287.5,602.7L287.6,603.9L287.7,605.1L287.9,606.3L288.0,607.5L288.2,608.7L288.3,609.9L288.4,611.1L288.6,612.3L288.7,613.5L288.9,614.7L289.0,615.9L289.2,617.1L289.3,618.2L289.5,619.4L289.7,620.6L289.8,621.8L290.0,623.0L290.2,624.2L290.5,625.4L290.7,626.5L291.0,627.7L291.5,628.8L292.4,628.4L292.8,627.3L293.1,626.2L293.4,625.0L293.6,623.8L293.8,622.6L294.0,621.4L294.1,620.2L294.3,619.1L294.5,617.9L294.6,616.7L294.8,615.5L294.9,614.3L295.1,613.1L295.2,611.9L295.4,610.7L295.5,609.5L295.7,608.3L295.8,607.1L296.0,606.0L296.1,604.8L296.3,603.6L296.4,602.4L296.6,601.2L296.7,600.0L296.9,598.8L297.0,597.6L297.2,596.4L297.3,595.2L297.5,594.0L297.6,592.9L297.8,591.7L297.9,590.5L298.1,589.3L298.2,588.1L298.3,586.9L298.5,585.7L298.6,584.5L298.7,583.3L298.9,582.1L299.0,580.9L299.1,579.7L299.2,578.5L299.3,577.3L299.5,576.2L299.6,575.0L299.7,573.8L299.8,572.6L299.9,571.4L300.0,570.2L300.0,569.0L300.1,567.8L300.2,566.6L300.3,565.4L300.4,564.2L300.5,563.0L300.6,561.8L300.7,560.6L300.7,559.4L300.8,558.2L300.9,557.0L301.0,555.8L301.2,554.6L301.3,553.4L301.4,552.2L301.6,551.0L301.8,549.9L302.1,548.7L302.9,548.1L303.4,549.2L303.8,550.3L304.1,551.5L304.4,552.6L304.6,553.8L304.9,555.0L305.1,556.2L305.3,557.4L305.5,558.5L305.7,559.7L305.8,560.9L306.0,562.1L306.1,563.3L306.3,564.5L306.4,565.7L306.5,566.9L306.6,568.1L306.7,569.3L306.8,570.5L306.9,571.7L306.9,572.9L307.0,574.1L307.0,575.3L307.1,576.5L307.1,577.7L307.1,578.9L307.2,580.1L307.2,581.3L307.2,582.5L307.3,583.7L307.3,584.9L307.3,586.1L307.4,587.3L307.4,588.5L307.4,589.7L307.5,590.9L307.5,592.1L307.5,593.3L307.5,594.5L307.6,595.7L307.6,596.9L307.6,598.1L307.6,599.3L307.7,600.5L307.7,601.7L307.7,602.9L307.7,604.1L307.7,605.3L307.8,606.5L307.8,607.7L307.8,608.9L307.8,610.1L307.8,611.3L307.9,612.5L307.9,613.7L307.9,614.9L307.9,616.1L307.9,617.3L307.9,618.5L308.0,619.7L308.0,620.9L308.0,622.1L308.0,623.3L308.0,624.5L308.0,625.7L308.1,626.9L308.1,628.1L308.1,629.3L308.1,630.5L308.1,631.7L308.1,632.9L308.2,634.1L308.2,635.3L308.2,636.5L308.2,637.7L308.2,638.9L308.2,640.1L308.3,641.3L308.3,642.5L308.3,643.7L308.3,644.9L308.3,646.1L308.4,647.3L308.4,648.5L308.4,649.7L308.4,650.9L308.4,652.1L308.5,653.3L308.5,654.5L308.5,655.7L308.5,656.9L308.5,658.1L308.6,659.3L308.6,660.5L308.6,661.7L308.6,662.9L308.7,664.1L308.7,665.3L308.7,666.5L308.8,667.7L308.8,668.9L308.8,670.1L308.9,671.3L308.9,672.5L308.9,673.7L309.0,674.9L309.0,676.1L309.0,677.3L309.1,678.5L309.1,679.7L309.1,680.9L309.2,682.1L309.2,683.3L309.3,684.5L309.3,685.7L309.4,686.9L309.4,688.1L309.5,689.3L309.5,690.5L309.6,691.7L309.7,692.9L309.7,694.1L309.8,695.3L309.9,696.5L309.9,697.7L310.0,698.9L310.1,700.1L310.2,701.3L310.3,702.5L310.4,703.7L310.5,704.9L310.6,706.1L310.7,707.3L310.8,708.4L310.9,709.6L311.0,710.8L311.1,712.0L311.2,713.2L311.3,714.4L311.5,715.6L311.6,716.8L311.8,718.0L311.9,719.2L312.1,720.4L312.2,721.6L312.4,722.8L312.5,724.0L312.7,725.1L312.9,726.3L313.1,727.5L313.3,728.7L313.5,729.9L313.7,731.1L314.0,732.2L314.2,733.4L314.4,734.6L314.7,735.8L315.0,736.9L315.3,738.1L315.6,739.2L316.0,740.4L316.4,741.5L316.9,742.6L317.4,743.7L318.0,744.7L318.7,745.7L319.5,746.7L320.3,747.5L321.2,748.3L322.2,749.0L323.3,749.5L324.4,750.0L325.5,750.3L326.7,750.6L327.9,750.8L329.1,751.0L330.3,751.0L331.5,751.0L332.7,751.0L333.9,750.9L335.0,750.7L336.2,750.6L337.4,750.3L338.6,750.1L339.7,749.8L340.9,749.4L342.1,749.1L343.2,748.8L344.3,748.4L345.5,748.0L346.6,747.7L347.8,747.3L348.9,746.9L350.1,746.5L351.2,746.2L352.3,745.8L353.5,745.4L354.6,745.0L355.7,744.6L356.9,744.2L358.0,743.8L359.1,743.4L360.3,743.0L361.4,742.6L362.5,742.2L363.6,741.7L364.8,741.3L365.9,740.9L367.0,740.5L368.1,740.0L369.2,739.6L370.4,739.1L371.5,738.7L372.6,738.2L373.7,737.8L374.8,737.3L375.9,736.8L377.0,736.4L378.1,735.9L379.2,735.4L380.3,735.0L381.4,734.5L382.5,734.0L383.6,733.6L384.7,733.1L385.9,732.7L387.0,732.2L388.1,731.8L389.2,731.4L390.4,731.0L391.5,730.6L392.6,730.2L393.8,729.8L394.9,729.5L396.1,729.1L397.2,728.8L398.4,728.5L399.5,728.2L400.7,727.8L401.9,727.6L403.0,727.3L404.2,727.0L405.4,726.7L406.5,726.5L407.7,726.2L408.9,726.0L410.1,725.7L411.2,725.5L412.4,725.3L413.6,725.1L414.8,724.8L416.0,724.6L417.1,724.4L418.3,724.2L419.5,724.0L420.7,723.9L421.9,723.7L423.1,723.5L424.3,723.3L425.4,723.1L426.6,723.0L427.8,722.8L429.0,722.6L430.2,722.4L431.4,722.3L432.6,722.1L433.8,721.9L435.0,721.7L436.1,721.6L437.3,721.4L438.5,721.2L439.7,721.0L440.9,720.9L442.1,720.7L443.3,720.5L444.4,720.3L445.6,720.1L446.8,719.9L448.0,719.7L449.2,719.5L450.4,719.3L451.5,719.1L452.7,718.9L453.9,718.7L455.1,718.4L456.3,718.2L457.5,718.0L458.6,717.8L459.8,717.5L461.0,717.3L462.2,717.1L463.3,716.8L464.5,716.6L465.7,716.3L466.9,716.1L468.0,715.8L469.2,715.6L470.4,715.3L471.5,715.0L472.7,714.8L473.9,714.5L475.1,714.2L476.2,713.9L477.4,713.6L478.5,713.3L479.7,713.1L480.9,712.8L482.0,712.4L483.2,712.1L484.4,711.8L485.5,711.5L486.7,711.2L487.8,710.8L489.0,710.5L490.1,710.2L491.3,709.8L492.4,709.5L493.6,709.1L494.7,708.8L495.9,708.4L497.0,708.0L498.1,707.7L499.3,707.3L500.4,706.9L501.6,706.5L502.7,706.1L503.8,705.7L505.0,705.3L506.1,704.9L507.2,704.5L508.3,704.1L509.5,703.6L510.6,703.2L511.7,702.8L512.8,702.3L513.9,701.9L515.0,701.4L516.1,700.9L517.2,700.4L518.3,699.9L519.3,699.3L520.3,698.6L521.3,697.9L522.3,697.2L523.2,696.4L524.0,695.6L524.9,694.7L525.6,693.8L526.3,692.8L527.0,691.8L527.7,690.8L528.3,689.8L528.9,688.8L529.4,687.7L530.0,686.6L530.5,685.5L531.0,684.4L531.4,683.3L531.9,682.2L532.3,681.1L532.7,679.9L533.1,678.8L533.4,677.7L533.8,676.5L534.1,675.4L534.4,674.2L534.7,673.0L535.1,671.9L535.4,670.7L535.7,669.6L535.9,668.4L536.2,667.2L536.5,666.1L536.8,664.9L537.1,663.7L537.3,662.6L537.6,661.4L537.9,660.2L538.1,659.0L538.4,657.9L538.6,656.7L538.9,655.5L539.1,654.3L539.3,653.2L539.6,652.0L539.8,650.8L540.1,649.6L540.3,648.5L540.5,647.3L540.7,646.1L541.0,644.9L541.2,643.7L541.4,642.6L541.6,641.4L541.9,640.2L542.1,639.0L542.3,637.8L542.5,636.7L542.7,635.5L542.9,634.3L543.1,633.1L543.3,631.9L543.5,630.7L543.7,629.6L543.9,628.4L544.1,627.2L544.3,626.0L544.5,624.8L544.7,623.6L544.9,622.4L545.0,621.3L545.2,620.1L545.4,618.9L545.5,617.7L545.7,616.5L545.9,615.3L546.0,614.1L546.2,612.9L546.3,611.7L546.5,610.6L546.7,609.4L546.9,608.2L547.1,607.0L547.2,605.8L547.4,604.6L547.6,603.4L547.8,602.3L548.0,601.1L548.3,599.9L548.5,598.7L548.7,597.5L548.9,596.4L549.2,595.2L549.5,594.0L549.8,592.9L550.2,591.7L551.0,591.7L551.3,592.8L551.5,594.0L551.7,595.2L551.8,596.4L552.0,597.6L552.1,598.8L552.2,600.0L552.3,601.2L552.3,602.3L552.4,603.5L552.5,604.7L552.6,605.9L552.6,607.1L552.7,608.3L552.8,609.5L552.9,610.7L552.9,611.9L553.0,613.1L553.1,614.3L553.2,615.5L553.2,616.7L553.3,617.9L553.4,619.1L553.5,620.3L553.5,621.5L553.6,622.7L553.7,623.9L553.8,625.1L553.9,626.3L554.0,627.5L554.0,628.7L554.1,629.9L554.2,631.1L554.3,632.3L554.4,633.5L554.5,634.7L554.5,635.9L554.6,637.1L554.7,638.3L554.8,639.5L554.9,640.7L555.0,641.9L555.0,643.1L555.1,644.3L555.2,645.5L555.3,646.7L555.4,647.9L555.4,649.1L555.5,650.3L555.6,651.5L555.7,652.7L555.7,653.9L555.8,655.1L555.9,656.3L556.0,657.5L556.0,658.7L556.1,659.8L556.2,661.0L556.3,662.2L556.4,663.4L556.4,664.6L556.5,665.8L556.6,667.0L556.7,668.2L556.8,669.4L556.9,670.6L557.0,671.8L557.1,673.0L557.3,674.2L557.4,675.4L557.5,676.6L557.6,677.8L557.8,679.0L557.9,680.2L558.1,681.4L558.2,682.6L558.4,683.7L558.5,684.9L558.7,686.1L558.9,687.3L559.1,688.5L559.3,689.7L559.5,690.9L559.7,692.0L559.9,693.2L560.1,694.4L560.3,695.6L560.5,696.8L560.8,698.0L561.0,699.1L561.2,700.3L561.5,701.5L561.7,702.7L562.0,703.8L562.3,705.0L562.6,706.1L563.0,707.3L563.5,708.4L564.0,709.5L564.6,710.5L565.3,711.5L566.0,712.4L566.8,713.3L567.8,714.1L568.8,714.7L569.9,715.1L571.1,715.1L572.3,714.9L573.4,714.4L574.5,713.8L575.4,713.2L576.4,712.4L577.3,711.6L578.2,710.9L579.1,710.1L580.0,709.3L580.9,708.5L581.9,707.8L582.8,707.0L583.8,706.3L584.7,705.6L585.7,704.9L586.7,704.2L587.7,703.5L588.7,702.9L589.7,702.2L590.8,701.6L591.8,701.0L592.8,700.4L593.9,699.9L595.0,699.3L596.1,698.8L597.2,698.3L598.3,697.9L599.4,697.5L600.5,697.1L601.7,696.7L602.9,696.4L604.0,696.2L605.2,696.0L606.4,695.8L607.6,695.7L608.8,695.6L610.0,695.5L611.2,695.4L612.4,695.4L613.6,695.4L614.8,695.4L616.0,695.4L617.2,695.4L618.4,695.4L619.6,695.5L620.8,695.5L622.0,695.6L623.2,695.6L624.4,695.7L625.6,695.8L626.8,695.8L628.0,695.9L629.2,696.0L630.4,696.0L631.6,696.1L632.8,696.2L634.0,696.3L635.2,696.4L636.4,696.5L637.6,696.6L638.8,696.7L639.9,696.8L641.1,696.9L642.3,697.0L643.5,697.1L644.7,697.2L645.9,697.3L647.1,697.4L648.3,697.5L649.5,697.6L650.7,697.7L651.9,697.8L653.1,697.9L654.3,698.0L655.5,698.1L656.7,698.2L657.9,698.4L659.1,698.5L660.3,698.6L661.5,698.7L662.7,698.8L663.9,698.9L665.1,699.0L666.3,699.1L667.5,699.2L668.7,699.3L669.8,699.4L671.0,699.4L672.2,699.5L673.4,699.6L674.6,699.7L675.8,699.8L677.0,699.8L678.2,699.9L679.4,700.0L680.6,700.0L681.8,700.1L683.0,700.2L684.2,700.2L685.4,700.3L686.6,700.3L687.8,700.3L689.0,700.4L690.2,700.4L691.4,700.4L692.6,700.4L693.8,700.4L695.0,700.4L696.2,700.4L697.4,700.4L698.6,700.4L699.8,700.4L701.0,700.4L702.2,700.3L703.4,700.3L704.6,700.2L705.8,700.2L707.0,700.1L708.2,700.1L709.4,700.0L710.6,699.9L711.8,699.8L713.0,699.7L714.2,699.6L715.4,699.5L716.6,699.4L717.8,699.2L719.0,699.1L720.2,698.9L721.4,698.8L722.6,698.6L723.7,698.4L724.9,698.3L726.1,698.1L727.3,697.9L728.5,697.7L729.7,697.4L730.8,697.2L732.0,697.0L733.2,696.7L734.4,696.5L735.5,696.2L736.7,695.9L737.9,695.7L739.0,695.4L740.2,695.1L741.4,694.7L742.5,694.4L743.6,694.0L744.8,693.6L745.9,693.2L747.0,692.7L748.1,692.2L749.2,691.7L750.2,691.1L751.2,690.4L752.2,689.8L753.2,689.0L754.1,688.3L755.0,687.5L755.9,686.7L756.7,685.8L757.6,684.9L758.4,684.1L759.1,683.1L759.9,682.2L760.6,681.3L761.4,680.3L762.1,679.3L762.8,678.4L763.4,677.4L764.1,676.4L764.8,675.4L765.4,674.4L766.1,673.4L766.7,672.4L767.4,671.3L768.0,670.3L768.7,669.3L769.3,668.3L770.0,667.3L770.6,666.3L771.3,665.3L771.9,664.3L772.6,663.3L773.3,662.3L774.1,661.4L774.8,660.4L775.5,659.5L776.3,658.6L777.1,657.7L777.9,656.8L778.8,655.9L779.6,655.1L780.5,654.3L781.4,653.5L782.4,652.8L783.3,652.0L784.3,651.3L785.3,650.6L786.3,650.0L787.3,649.4L788.4,648.8L789.4,648.2L790.5,647.7L791.6,647.2L792.7,646.8L793.9,646.4L795.0,646.1L796.2,645.8L797.4,645.5L798.5,645.3L799.7,645.2L800.9,645.1L802.1,645.1L803.3,645.2L804.5,645.3L805.7,645.5L806.9,645.8L808.0,646.2L809.2,646.6L810.3,647.0L811.3,647.5L812.4,648.1L813.4,648.7L814.5,649.3L815.4,650.0L816.4,650.8L817.3,651.5L818.2,652.3L819.1,653.1L819.9,654.0L820.7,654.9L821.5,655.8L822.2,656.8L822.9,657.8L823.6,658.8L824.2,659.8L824.8,660.8L825.4,661.9L825.9,663.0L826.4,664.0L826.9,665.1L827.4,666.2L827.8,667.4L828.2,668.5L828.6,669.6L829.0,670.8L829.4,671.9L829.8,673.0L830.2,674.2L830.5,675.3L830.9,676.5L831.2,677.6L831.6,678.8L832.0,679.9L832.3,681.0L832.7,682.2L833.1,683.3L833.5,684.4L833.9,685.6L834.3,686.7L834.7,687.8L835.1,689.0L835.5,690.1L835.9,691.2L836.3,692.4L836.8,693.5L837.2,694.6L837.6,695.7L838.1,696.8L838.5,697.9L839.0,699.0L839.5,700.1L840.0,701.2L840.5,702.3L841.1,703.4L841.7,704.4L842.3,705.5L842.9,706.5L843.6,707.5L844.3,708.4L845.1,709.4L845.8,710.3L846.7,711.1L847.5,712.0L848.5,712.8L849.4,713.5L850.4,714.2L851.4,714.8L852.5,715.4L853.6,715.8L854.7,716.2L855.9,716.5L857.1,716.6L858.3,716.5L859.5,716.3L860.6,715.9L861.7,715.5L862.8,714.9L863.8,714.3L864.8,713.6L865.8,712.9L866.7,712.1L867.5,711.3L868.4,710.4L869.2,709.5L869.9,708.6L870.7,707.6L871.3,706.7L872.0,705.7L872.6,704.6L873.2,703.6L873.8,702.6L874.4,701.5L875.0,700.4L875.5,699.4L876.1,698.3L876.6,697.2L877.1,696.1L877.6,695.1L878.1,694.0L878.6,692.9L879.1,691.8L879.5,690.6L880.0,689.5L880.4,688.4L880.9,687.3L881.3,686.2L881.7,685.1L882.1,683.9L882.5,682.8L882.9,681.7L883.3,680.5L883.7,679.4L884.1,678.3L884.5,677.1L884.8,676.0L885.2,674.8L885.5,673.7L885.9,672.5L886.2,671.4L886.6,670.2L886.9,669.1L887.2,667.9L887.5,666.8L887.8,665.6L888.2,664.4L888.5,663.3L888.7,662.1L889.0,660.9L889.3,659.8L889.6,658.6L889.9,657.4L890.2,656.3L890.4,655.1L890.7,653.9L890.9,652.8L891.2,651.6L891.5,650.4L891.7,649.2L891.9,648.1L892.2,646.9L892.4,645.7L892.7,644.5L892.9,643.4L893.1,642.2L893.3,641.0L893.6,639.8L893.8,638.6L894.0,637.5L894.2,636.3L894.4,635.1L894.6,633.9L894.8,632.7L895.0,631.5L895.2,630.4L895.4,629.2L895.6,628.0L895.8,626.8L896.0,625.6L896.2,624.4L896.4,623.3L896.6,622.1L896.8,620.9L897.0,619.7L897.2,618.5L897.4,617.3L897.6,616.2L897.8,615.0L898.0,613.8L898.2,612.6L898.4,611.4L898.6,610.2L898.8,609.0L898.9,607.9L899.1,606.7L899.3,605.5L899.5,604.3L899.7,603.1L899.9,601.9L900.1,600.8L900.3,599.6L900.5,598.4L900.7,597.2L900.9,596.0L901.1,594.8L901.3,593.6L901.5,592.5L901.7,591.3L901.8,590.1L902.0,588.9L902.2,587.7L902.4,586.5L902.6,585.3L902.7,584.2L902.9,583.0L903.1,581.8L903.2,580.6L903.4,579.4L903.5,578.2L903.7,577.0L903.8,575.8L904.0,574.6L904.1,573.4L904.2,572.2L904.4,571.0L904.5,569.9L904.7,568.7L904.8,567.5L904.9,566.3L905.1,565.1L905.3,563.9L905.4,562.7L905.6,561.5L905.8,560.3L906.0,559.2L906.2,558.0L906.4,556.8L906.7,555.6L906.9,554.4L907.2,553.3L907.4,552.1L907.7,550.9L907.9,549.7L908.2,548.6L908.5,547.4L908.9,546.3L909.2,545.1L909.7,544.0L910.3,543.0L911.2,543.4L911.6,544.6L911.9,545.7L912.2,546.9L912.4,548.1L912.6,549.3L912.8,550.5L912.9,551.6L913.1,552.8L913.2,554.0L913.4,555.2L913.5,556.4L913.7,557.6L913.8,558.8L914.0,560.0L914.1,561.2L914.3,562.4L914.4,563.6L914.6,564.7L914.7,565.9L914.9,567.1L915.0,568.3L915.2,569.5L915.3,570.7L915.5,571.9L915.7,573.1L915.8,574.3L916.0,575.5L916.2,576.6L916.4,577.8L916.5,579.0L916.7,580.2L916.9,581.4L917.1,582.6L917.3,583.8L917.5,584.9L917.7,586.1L917.9,587.3L918.1,588.5L918.3,589.7L918.5,590.9L918.7,592.0L918.9,593.2L919.1,594.4L919.3,595.6L919.5,596.8L919.7,598.0L920.0,599.1L920.2,600.3L920.4,601.5L920.6,602.7L920.8,603.9L921.1,605.0L921.3,606.2L921.5,607.4L921.7,608.6L922.0,609.7L922.2,610.9L922.4,612.1L922.7,613.3L922.9,614.5L923.1,615.6L923.4,616.8L923.6,618.0L923.9,619.2L924.2,620.3L924.4,621.5L924.7,622.7L925.0,623.8L925.3,625.0L925.6,626.2L925.9,627.3L926.2,628.5L926.5,629.6L926.9,630.8L927.2,631.9L927.6,633.1L928.0,634.2L928.4,635.3L928.8,636.5L929.2,637.6L929.6,638.7L930.1,639.8L930.5,640.9L931.0,642.0L931.5,643.1L932.0,644.2L932.6,645.3L933.1,646.4L933.7,647.4L934.3,648.4L935.0,649.5L935.6,650.5L936.3,651.4L937.0,652.4L937.8,653.4L938.5,654.3L939.3,655.2L940.2,656.0L941.0,656.9L941.9,657.7L942.9,658.4L943.8,659.1L944.8,659.8L945.8,660.4L946.9,661.0L948.0,661.6L949.0,662.1L950.2,662.5L951.3,663.0L952.4,663.4L953.5,663.7L954.7,664.1L955.8,664.4L957.0,664.8L958.1,665.1L959.3,665.4L960.5,665.7L961.6,666.0L962.8,666.3L963.9,666.7L965.1,667.0L966.3,667.2L967.4,667.5L968.6,667.8L969.8,668.1L970.9,668.4L972.1,668.7L973.3,668.9L974.4,669.2L975.6,669.5L976.8,669.7L978.0,670.0L979.1,670.2L980.3,670.5L981.5,670.7L982.7,671.0L983.8,671.2L985.0,671.5L986.2,671.7L987.4,671.9L988.5,672.2L989.7,672.4L990.9,672.6L992.1,672.9L993.3,673.1L994.4,673.3L995.6,673.5L996.8,673.7L998.0,673.9L999.2,674.2L1000.3,674.4L1001.5,674.6L1002.7,674.8L1003.9,675.0L1005.1,675.2L1006.3,675.4L1007.4,675.6L1008.6,675.8L1009.8,676.0L1011.0,676.2L1012.2,676.4L1013.4,676.6L1014.6,676.7L1015.7,676.9L1016.9,677.1L1018.1,677.3L1019.3,677.5L1020.5,677.7L1021.7,677.9L1022.8,678.1L1024.0,678.3L1025.2,678.5L1026.4,678.6L1027.6,678.8L1028.8,679.0L1030.0,679.2L1031.1,679.4L1032.3,679.6L1033.5,679.8L1034.7,679.9L1035.9,680.1L1037.1,680.3L1038.3,680.5L1039.5,680.7L1040.6,680.9L1041.8,681.0L1043.0,681.2L1044.2,681.4L1045.4,681.6L1046.6,681.8L1047.8,682.0L1048.9,682.1L1050.1,682.3L1051.3,682.5L1052.5,682.7L1053.7,682.9L1054.9,683.0L1056.1,683.2L1057.3,683.4L1058.4,683.6L1059.6,683.8L1060.8,684.0L1062.0,684.1L1063.2,684.3L1064.4,684.5L1065.6,684.7L1066.7,684.9L1067.9,685.0L1069.1,685.2L1070.3,685.4L1071.5,685.6L1072.7,685.8L1073.9,685.9L1075.1,686.1L1076.2,686.3L1077.4,686.5L1078.6,686.7L1079.8,686.9L1081.0,687.0L1082.2,687.2L1083.4,687.4L1084.5,687.6L1085.7,687.8L1086.9,687.9L1088.1,688.1L1089.3,688.3L1090.5,688.5L1091.7,688.7L1092.9,688.8L1094.0,689.0L1095.2,689.2L1096.4,689.4L1097.6,689.6L1098.8,689.8L1100.0,689.9L1101.2,690.1L1102.3,690.3L1103.5,690.5L1104.7,690.7L1105.9,690.9L1107.1,691.0L1108.3,691.2L1109.5,691.4L1110.7,691.6L1111.8,691.8L1113.0,692.0L1114.2,692.1L1115.4,692.3L1116.6,692.5L1117.8,692.7L1119.0,692.9L1120.1,693.1L1121.3,693.2L1122.5,693.4L1123.7,693.6L1124.9,693.8L1126.1,694.0L1127.3,694.1L1128.5,694.3L1129.6,694.5L1130.8,694.7L1132.0,694.9L1133.2,695.0L1134.4,695.2L1135.6,695.4L1136.8,695.6L1137.9,695.7L1139.1,695.9L1140.3,696.1L1141.5,696.3L1142.7,696.4L1143.9,696.6L1145.1,696.8L1146.3,697.0L1147.5,697.1L1148.6,697.3L1149.8,697.5L1151.0,697.6L1152.2,697.8L1153.4,698.0L1154.6,698.1L1155.8,698.3L1157.0,698.5L1158.2,698.6L1159.3,698.8L1160.5,699.0L1161.7,699.1L1162.9,699.3L1164.1,699.4L1165.3,699.6L1166.5,699.7L1167.7,699.9L1168.9,700.0L1170.1,700.2L1171.2,700.3L1172.4,700.5L1173.6,700.6L1174.8,700.8L1176.0,700.9L1177.2,701.1L1178.4,701.2L1179.6,701.3L1180.8,701.5L1182.0,701.6L1183.2,701.8L1184.4,701.9L1185.6,702.0L1186.7,702.1L1187.9,702.3L1189.1,702.4L1190.3,702.5L1191.5,702.7L1192.7,702.8L1193.9,702.9L1195.1,703.0L1196.3,703.1L1197.5,703.2L1198.7,703.4L1199.9,703.5L1201.1,703.6L1202.3,703.7L1203.5,703.8L1204.7,703.9L1205.9,704.0L1207.1,704.1L1208.3,704.2L1209.5,704.3L1210.7,704.4L1211.9,704.5L1213.0,704.5L1214.2,704.6L1215.4,704.7L1216.6,704.8L1217.8,704.9L1219.0,704.9L1220.2,705.0L1221.4,705.1L1222.6,705.2L1223.8,705.2L1225.0,705.3L1226.2,705.3L1227.4,705.4L1228.6,705.5L1229.8,705.5L1231.0,705.6L1232.2,705.6L1233.4,705.7L1234.6,705.7L1235.8,705.7L1237.0,705.8L1238.2,705.8L1239.4,705.9L1240.6,705.9L1241.8,705.9L1243.0,705.9L1244.2,706.0L1245.4,706.0L1246.6,706.0" fill="none" stroke="#000" stroke-width="2.45" stroke-linejoin="round" stroke-linecap="butt"/>
<rect x="68.5" y="24.4" width="1179.1" height="818.55" fill="none" stroke="#000" stroke-width="2.65"/>
<path d="M471.6,24.6V267.6H1247.6" fill="none" stroke="#000" stroke-width="2.8"/><path d="M471.6,24.6H1247.6V267.6" fill="none" stroke="#000" stroke-width="3.1"/>
<line x1="296.6" y1="842" x2="296.6" y2="856.9" stroke="#000" stroke-width="2.9"/>
<text class="tk" x="266.3" y="883.8">500</text>
<line x1="614.1" y1="842" x2="614.1" y2="856.9" stroke="#000" stroke-width="2.9"/>
<text class="tk" x="578.8" y="883.8">1000</text>
<line x1="930.25" y1="842" x2="930.25" y2="856.9" stroke="#000" stroke-width="2.9"/>
<text class="tk" x="895.9" y="883.8">1500</text>
<line x1="1247.6" y1="842" x2="1247.6" y2="856.9" stroke="#000" stroke-width="2.9"/>
<text class="tk" x="1211.6" y="883.8">2000</text>
<clipPath id="c145"><rect x="3.8" y="-35" width="60" height="45"/></clipPath>
<text class="lt" x="71.00" y="95.3">Rt</text><text class="nm" transform="translate(68.37,122.1) scale(0.955,1)" clip-path="url(#c145)">145</text>
<text class="lt" x="138.47" y="100.4">Gt</text><text class="nm" transform="translate(135.47,124.9) scale(0.955,1)">300</text>
<text class="lt" x="209.37" y="95.3">Gt</text><text class="nm" transform="translate(204.37,120.5) scale(0.955,1)">390</text>
<text class="lt" x="177.27" y="170.3">Gt</text><text class="nm" transform="translate(176.07,193.9) scale(0.955,1)">360</text>
<text class="lt" x="234.05" y="170.0">Hm</text><text class="nm" transform="translate(232.33,193.3) scale(0.955,1)">410</text>
<text class="lt" x="118.00" y="242.7">Hm</text><text class="nm" transform="translate(125.41,265.3) scale(0.955,1)">290</text>
<text x="247.36" y="239.8" font-size="28.4" stroke="#000" stroke-width="0.3">α-Q</text><text class="nm" transform="translate(246.63,265.4) scale(0.955,1)">460</text>
<text class="lt" x="86.90" y="344.5">Rt</text><text class="nm" transform="translate(82.23,369.5) scale(0.898,1)">195</text>
<text class="lt" x="108.80" y="400.8">Hm</text><text class="nm" transform="translate(112.31,425.6) scale(0.955,1)">240</text>
<text class="lt" x="177.00" y="348.0">Lp</text><text class="nm" transform="translate(173.37,375.5) scale(0.955,1)">340</text>
<text class="lt" x="278.37" y="347.5">Al</text><text class="nm" transform="translate(273.48,370.2) scale(0.955,1)">480</text>
<text class="lt" x="299.17" y="401.7">Al</text><text class="nm" transform="translate(294.38,425.8) scale(0.955,1)">505</text>
<text class="lt" x="526.20" y="401.0">Wd</text><text class="nm" transform="translate(527.84,426.5) scale(0.955,1)">900</text>
<text class="lt" x="776.60" y="401.0">Hm</text><text class="nm" transform="translate(773.22,426.6) scale(0.955,1)">1310</text>
<text class="lt" x="886.00" y="401.0">Wd</text><text class="nm" transform="translate(880.02,426.6) scale(0.955,1)">1470</text>
<text class="lgb" x="484.2" y="52.9">Скальная поверхность</text>
<text class="lgb" x="484.2" y="86.6">и продукты геохимических процессов:</text>
<text class="lg" x="484.2" y="118.9">Rt - рутил; α-Q - α-кварц; Al - альбит; Lp - лепидокрокит; Gt - гетит (?)</text>
<text class="lgb" x="484.2" y="153.5">Органические загрязнения и их продукты:</text>
<text class="lg" x="484.2" y="185.8">Wd - веделлит</text>
<text class="lgb" x="484.2" y="219.8">Пигмент:</text>
<text class="lg" x="484.2" y="252.6">Hm - гематит; Gt - гетит (?)</text>
<text class="ax" y="941.2" stroke="#000" stroke-width="0.25"><tspan x="438.6" textLength="230.5" lengthAdjust="spacingAndGlyphs">рамановский</tspan> <tspan x="678.6" textLength="98.5" lengthAdjust="spacingAndGlyphs">сдвиг</tspan> <tspan x="788.4">(см</tspan><tspan font-size="19.5" dx="1" dy="-21.8">-1</tspan><tspan dx="1.5" dy="21.8">)</tspan></text>
<text class="ax" transform="translate(40.8,629.6) rotate(-90)" textLength="262" lengthAdjust="spacingAndGlyphs" stroke="#000" stroke-width="0.55">интенсивность</text>
<path d="M33.1,356V296" stroke="#000" stroke-width="4.3" fill="none"/>
<path d="M26.4,296L33,224L39.6,296Z" fill="#000"/>
</svg>
</body></html>
